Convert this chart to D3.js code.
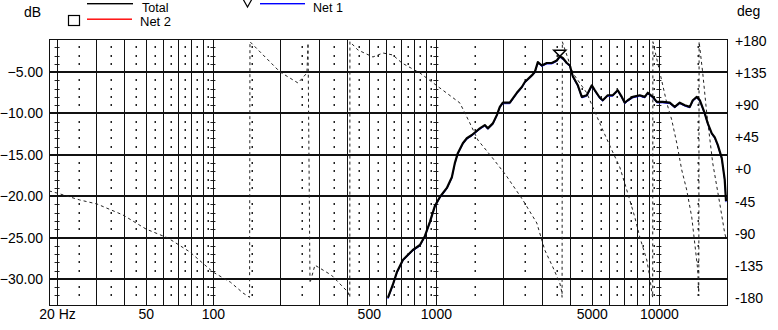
<!DOCTYPE html>
<html><head><meta charset="utf-8">
<script src="https://cdn.jsdelivr.net/npm/d3@7"></script>
<style>html,body{margin:0;padding:0;background:#fff;overflow:hidden}svg{display:block}</style>
</head><body><div id="chart"></div>
<script>
// ---- data ----
const totalFreq = [609, 641, 668, 711, 788, 848, 893, 940, 989, 1042, 1120, 1179, 1216, 1254, 1321, 1376, 1450, 1574, 1657, 1709, 1801, 1876, 1935, 1996, 2145, 2307, 2429, 2506, 2692, 2777, 2865, 2985, 3143, 3309, 3485, 3594, 3708, 3864, 3987, 4111, 4330, 4513, 4750, 5004, 5163, 5435, 5603, 5899, 6212, 6540, 6817, 7031, 7252, 7636, 8209, 8644, 8917, 9390, 9786, 10410, 11185, 11781, 12408, 13068, 13765, 14197, 14795, 15260, 16064, 16570, 17267, 17810, 18370, 19145, 19735, 20000];
const totalDb = [-32.3, -30.7, -29.2, -27.7, -26.5, -25.9, -24.8, -23.1, -21.2, -20.1, -19.0, -17.7, -16.0, -14.8, -13.6, -13.0, -12.6, -11.8, -11.4, -11.8, -11.2, -10.2, -9.2, -8.7, -8.7, -7.5, -6.8, -6.2, -5.4, -5.0, -3.8, -4.2, -3.9, -3.9, -3.6, -3.1, -3.3, -3.9, -4.2, -5.5, -6.6, -8.0, -7.8, -6.6, -7.2, -8.1, -8.4, -7.8, -7.8, -7.2, -8.0, -8.7, -8.4, -8.0, -7.8, -8.0, -7.5, -8.0, -8.6, -8.6, -8.7, -9.2, -8.7, -9.0, -9.2, -8.4, -8.0, -8.4, -10.0, -11.2, -12.4, -12.9, -13.8, -15.4, -18.0, -20.6];
const net1Db = totalDb;
const phaseFreq = [18.4, 20, 25.3, 30.2, 39.5, 50.1, 62.9, 78.9, 100, 120, 136.4, 146, 146.6, 200, 240.7, 264, 267, 272.5, 286.7, 340, 403, 411, 411.5, 447, 522, 579, 641, 704, 848, 1042, 1281, 1420, 1542, 1781, 2058, 2454, 2835, 3078, 3344, 3594, 3669, 3680, 3690, 4111, 4750, 5052, 5603, 6148, 6677, 7178, 7796, 8209, 8826, 9105, 9290, 9380, 9400, 10849, 11424, 12027, 12664, 13333, 14038, 14480, 14938, 15100, 15150, 15728, 16391, 17436, 18737, 19730, 20000];
const phaseDeg = [-30, -33, -42.7, -48.3, -63.7, -83.4, -96, -115.6, -143.6, -158, -173, -179, 179, 136.6, 121.2, 135.2, 177, -159, -134, -148, -171.6, -179, 179, 167.4, 157.6, 163.2, 160.4, 149.2, 135.2, 114.2, 93.2, 65.1, 41.3, 17.5, -7.7, -42.7, -75, -112.8, -136.6, -159, -171.6, -179, 179, 135.2, 107.2, 87.5, 55.3, 27.3, 3.5, -28.7, -66.5, -94.6, -126.8, -150.6, -171.6, -179, 179, 93.2, 69.3, 37.1, -0.7, -28.7, -66.5, -103, -140.8, -177, 179, 135.2, 79.1, 9.1, -47, -89, -96];
const markerFreq = 3594, markerDb = -3.1;
const dbTicks = [-5, -10, -15, -20, -25, -30];
const phaseTicks = [180, 135, 90, 45, 0, -45, -90, -135, -180];
const phaseLabels = ["+180", "+135", "+90", "+45", "+0", "-45", "-90", "-135", "-180"];
const freqTicks = [20, 50, 100, 500, 1000, 5000, 10000];
const freqLabels = ["20 Hz", "50", "100", "500", "1000", "5000", "10000"];
const majorGridFreq = [20, 30, 40, 50, 60, 70, 80, 90, 100, 200, 300, 400, 500, 600, 700, 800, 900, 1000, 2000, 3000, 4000, 5000, 6000, 7000, 8000, 9000, 10000];
const crossFreq = [20, 100, 1000, 10000];
const minorGridFreq = [25, 35, 45, 55, 65, 75, 85, 95, 150, 250, 350, 450, 550, 650, 750, 850, 950, 1500, 2500, 3500, 4500, 5500, 6500, 7500, 8500, 9500, 15000];
const minorDb = d3.range(-32, -1).filter(v => v % 5 !== 0);
const legendItems = ["Total", "Net 2", "Net 1"];

// ---- drawing ----
const W = 778, H = 330;
const L = 49, R = 727, T = 39, B = 305;
const FONT = "'Liberation Sans', Arial, sans-serif";
const svg = d3.select("#chart").append("svg").attr("width", W).attr("height", H);
svg.append("rect").attr("width", W).attr("height", H).attr("fill", "#fff");

const x = d3.scaleLog().domain([18.4, 20000]).range([L, R - 1]);
const yDb = d3.scaleLinear().domain([-33.15, -1]).range([B, T]);
const yPh = d3.scaleLinear().domain([-180, 180]).range([298, 41]);

const grid = svg.append("g");
// minor dots
minorGridFreq.forEach(f => {
  minorDb.forEach(v => {
    grid.append("rect").attr("x", Math.round(x(f)) - 0.5).attr("y", Math.round(yDb(v)) - 1)
      .attr("width", 1.5).attr("height", 2).attr("fill", "#222");
  });
});
// cross ticks on decade lines
crossFreq.forEach(f => {
  minorDb.forEach(v => {
    grid.append("line").attr("x1", x(f) - 2.5).attr("x2", x(f) + 2.5)
      .attr("y1", Math.round(yDb(v)) + 0.5).attr("y2", Math.round(yDb(v)) + 0.5)
      .attr("stroke", "#222").attr("stroke-width", 1);
  });
});
// major verticals
grid.selectAll("line.v").data(majorGridFreq).enter().append("line")
  .attr("x1", d => Math.round(x(d)) + 0.5).attr("x2", d => Math.round(x(d)) + 0.5)
  .attr("y1", T).attr("y2", B).attr("stroke", "#111").attr("stroke-width", 1);
// major horizontals
grid.selectAll("line.h").data(dbTicks).enter().append("line")
  .attr("x1", L).attr("x2", R)
  .attr("y1", d => Math.round(yDb(d))).attr("y2", d => Math.round(yDb(d)))
  .attr("stroke", "#111").attr("stroke-width", 2);
// frame
svg.append("rect").attr("x", L + 0.5).attr("y", T + 0.5).attr("width", R - L).attr("height", B - T)
  .attr("fill", "none").attr("stroke", "#111").attr("stroke-width", 1);

svg.append("clipPath").attr("id", "clip").append("rect")
  .attr("x", L).attr("y", T).attr("width", R - L + 1).attr("height", B - T + 1);
const plot = svg.append("g").attr("clip-path", "url(#clip)");

// phase (dashed)
const phLine = d3.line().x((d, i) => x(phaseFreq[i])).y(d => yPh(d));
plot.append("path").attr("d", phLine(phaseDeg)).attr("fill", "none")
  .attr("stroke", "#222").attr("stroke-width", 1).attr("stroke-dasharray", "3,3");

// net1 (blue, under total)
const magLine = d3.line().x((d, i) => x(totalFreq[i])).y(d => yDb(d));
plot.append("path").attr("d", magLine(net1Db)).attr("fill", "none")
  .attr("stroke", "#1a1aff").attr("stroke-width", 1).attr("transform", "translate(0,1)");
// total
plot.append("path").attr("d", magLine(totalDb)).attr("fill", "none")
  .attr("stroke", "#000").attr("stroke-width", 2.2).attr("stroke-linejoin", "round");

// marker triangle
const mx = x(markerFreq), my = yDb(markerDb);
svg.append("path").attr("d", `M${mx - 6},${my - 6} L${mx + 6},${my - 6} L${mx},${my} Z`)
  .attr("fill", "#fff").attr("stroke", "#000").attr("stroke-width", 1.5);

// axes
const axL = svg.append("g").attr("transform", `translate(${L},0)`)
  .call(d3.axisLeft(yDb).tickValues(dbTicks).tickFormat(d3.format(".2f")).tickSize(0).tickPadding(6));
const axR = svg.append("g").attr("transform", `translate(${R},0)`)
  .call(d3.axisRight(yPh).tickValues(phaseTicks).tickFormat((d, i) => phaseLabels[i]).tickSize(0).tickPadding(8));
const axB = svg.append("g").attr("transform", `translate(0,${B})`)
  .call(d3.axisBottom(x).tickValues(freqTicks).tickFormat((d, i) => freqLabels[i]).tickSize(0).tickPadding(4));
[axL, axR, axB].forEach(a => {
  a.select(".domain").remove();
  a.selectAll("text").attr("font-family", FONT).attr("font-size", 14).attr("fill", "#000");
});

// titles
const txt = (s, tx, ty, size) => svg.append("text").attr("x", tx).attr("y", ty)
  .attr("font-family", FONT).attr("font-size", size || 14).attr("fill", "#000").text(s);
txt("dB", 24, 17);
txt("deg", 737, 16);

// legend
svg.append("rect").attr("x", 87).attr("y", 3).attr("width", 46).attr("height", 1.4).attr("fill", "#000");
txt(legendItems[0], 142, 11.5, 12.5);
svg.append("rect").attr("x", 68.5).attr("y", 15.5).attr("width", 11).attr("height", 10).attr("fill", "none").attr("stroke", "#000").attr("stroke-width", 1.2);
svg.append("rect").attr("x", 87).attr("y", 18.5).attr("width", 45).attr("height", 1.4).attr("fill", "#ff0000");
txt(legendItems[1], 140, 26, 13);
svg.append("path").attr("d", "M243,-1 L247.5,7 L252,-1").attr("fill", "none").attr("stroke", "#000").attr("stroke-width", 1.2);
svg.append("rect").attr("x", 260).attr("y", 3).attr("width", 45).attr("height", 1.4).attr("fill", "#0000ff");
txt(legendItems[2], 313, 11.5, 12.5);
</script></body></html>
